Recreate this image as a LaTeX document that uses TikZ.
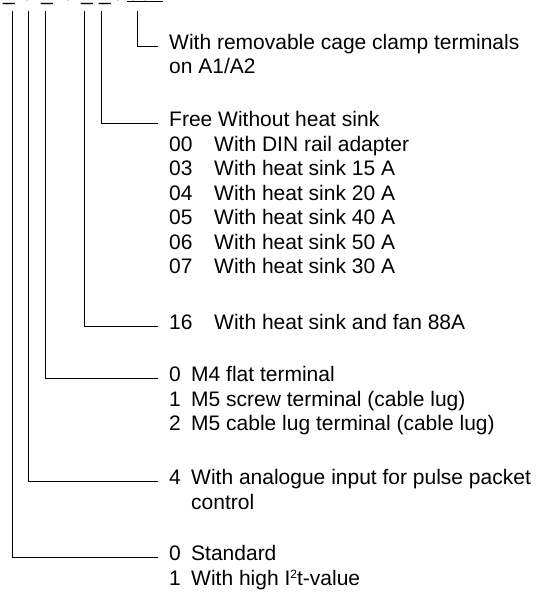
\documentclass[tikz,border=0pt]{standalone}
\usepackage{fontspec}
\setmainfont{Liberation Sans}
\usetikzlibrary{positioning}

\tikzset{
  entry/.style={anchor=west, inner sep=0pt, text height=1.4ex, text depth=0pt,
    font=\fontsize{21}{24.5}\selectfont},
  glyph/.style={anchor=base, inner sep=0pt, font=\fontsize{21}{24.5}\selectfont},
  leader/.style={line width=1pt, shorten >=11pt},
}
\newcommand{\smallsup}[1]{\raisebox{7pt}{\fontsize{12}{12}\selectfont #1}}

\begin{document}
\begin{tikzpicture}[x=1pt, y=-1pt]
  \useasboundingbox (0,0) rectangle (537,592);

  % type code, cut off at the top
  \foreach \x/\g [count=\i] in {9/\_, 29/{/}, 47/\_, 70/{/}, 87/\_, 105/\_, 120/{/}}
    \node[glyph] (code\i) at (\x,0) {\g};
  \node[glyph] (suffix) at (145,0) {\underline{001}};

  \coordinate (f1) at (12,11);
  \coordinate (f2) at (28,11);
  \coordinate (f3) at (45,11);
  \coordinate (f4) at (84,11);
  \coordinate (f5) at (101,11);
  \coordinate (f6) at (137,11);

  % texts
  \node[entry] (cage) at (169,46) {With removable cage clamp terminals};
  \node[entry] (cage2) at (169,70) {on A1/A2};

  \node[entry] (hsfree) at (169,123) {Free Without heat sink};
  \foreach \n/\t [count=\i] in {00/With DIN rail adapter, 03/With heat sink 15 A,
      04/With heat sink 20 A, 05/With heat sink 40 A, 06/With heat sink 50 A,
      07/With heat sink 30 A} {
    \node[entry] (hs\n) at (169,123+24.5*\i) {\n};
    \node[entry] (hsd\n) at (214,123+24.5*\i) {\t};
  }

  \node[entry] (fan) at (169,326) {16};
  \node[entry] (fand) at (214,326) {With heat sink and fan 88A};

  \node[entry] (term0) at (169,378) {0};
  \node[entry] (termd0) at (191,378) {M4 flat terminal};
  \node[entry] (term1) at (169,403) {1};
  \node[entry] (termd1) at (191,403) {M5 screw terminal (cable lug)};
  \node[entry] (term2) at (169,427) {2};
  \node[entry] (termd2) at (191,427) {M5 cable lug terminal (cable lug)};

  \node[entry] (ana) at (169,481) {4};
  \node[entry] (anad) at (191,481) {With analogue input for pulse packet};
  \node[entry] (anad2) at (191,506) {control};

  \node[entry] (std0) at (169,557) {0};
  \node[entry] (stdd0) at (191,557) {Standard};
  \node[entry] (std1) at (169,582) {1};
  \node[entry] (stdd1) at (191,582) {With high I\smallsup{2}t-value};

  % leaders
  \draw[leader] (f6) |- (cage);
  \draw[leader] (f5) |- (hsfree);
  \draw[leader] (f4) |- (fan);
  \draw[leader] (f3) |- (term0);
  \draw[leader] (f2) |- (ana);
  \draw[leader] (f1) |- (std0);
\end{tikzpicture}
\end{document}
